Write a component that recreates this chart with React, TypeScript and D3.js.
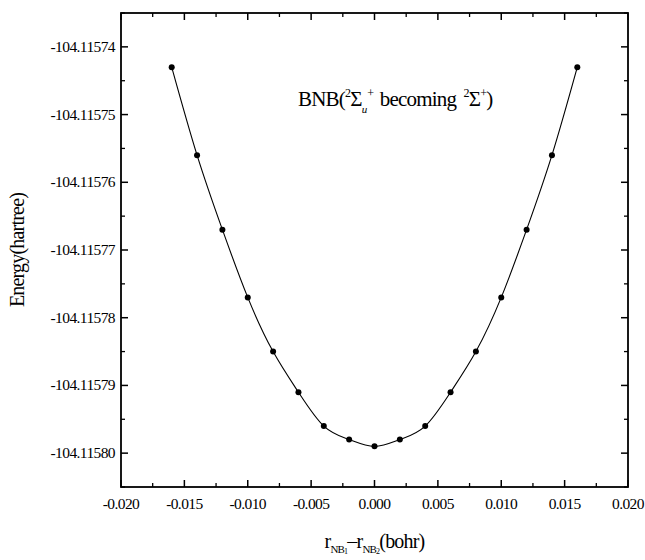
import React from 'react'
import * as d3 from 'd3'

// bond displacement (bohr) and total energy (hartree)
const dispBohr = [-0.016, -0.014, -0.012, -0.010, -0.008, -0.006, -0.004, -0.002, 0,
  0.002, 0.004, 0.006, 0.008, 0.010, 0.012, 0.014, 0.016]
const energyHartree = [-104.115743, -104.115756, -104.115767, -104.115777, -104.115785,
  -104.115791, -104.115796, -104.115798, -104.115799, -104.115798, -104.115796,
  -104.115791, -104.115785, -104.115777, -104.115767, -104.115756, -104.115743]

const xTickVals = [-0.020, -0.015, -0.010, -0.005, 0, 0.005, 0.010, 0.015, 0.020]
const xTickLabels = ['-0.020', '-0.015', '-0.010', '-0.005', '0.000', '0.005', '0.010', '0.015', '0.020']
const yTickVals = [-104.11574, -104.11575, -104.11576, -104.11577, -104.11578, -104.11579, -104.11580]
const yTickLabels = ['-104.11574', '-104.11575', '-104.11576', '-104.11577', '-104.11578', '-104.11579', '-104.11580']

const W = 645
const H = 560
const margin = { left: 121, top: 13, right: 17, bottom: 73 }
const font = '"Liberation Serif", "Times New Roman", serif'

const App = () => {
  const x0 = margin.left
  const x1 = W - margin.right
  const y0 = margin.top
  const y1 = H - margin.bottom

  const xScale = d3.scaleLinear().domain([-0.020, 0.020]).range([x0, x1])
  const yScale = d3.scaleLinear().domain([-104.115805, -104.115735]).range([y1, y0])

  const pts: [number, number][] = dispBohr.map((d, i) => [xScale(d), yScale(energyHartree[i])])
  const line = d3.line().curve(d3.curveNatural)(pts) || ''

  // minor ticks half way between the majors
  const xMinor = xTickVals.slice(1).map((v, i) => (v + xTickVals[i]) / 2)
  const yMinor = yTickVals.slice(1).map((v, i) => (v + yTickVals[i]) / 2)
  const yMinorAll = [yTickVals[0] + 0.000005, ...yMinor, yTickVals[yTickVals.length - 1] - 0.000005]

  const major = 7
  const minor = 4

  return (
    <svg width={W} height={H} style={{ position: 'absolute', left: 0, top: 0, background: '#fff' }}>
      <rect x={x0} y={y0} width={x1 - x0} height={y1 - y0} fill="none" stroke="#000" strokeWidth={1.8} />

      {xTickVals.map((v, i) => (
        <g key={'xt' + i}>
          <line x1={xScale(v)} x2={xScale(v)} y1={y1} y2={y1 - major} stroke="#000" strokeWidth={1.5} />
          <line x1={xScale(v)} x2={xScale(v)} y1={y0} y2={y0 + major} stroke="#000" strokeWidth={1.5} />
          <text x={xScale(v)} y={y1 + 22} textAnchor="middle" fontFamily={font} fontSize={15.5} letterSpacing={-0.6}>
            {xTickLabels[i]}
          </text>
        </g>
      ))}
      {xMinor.map((v, i) => (
        <g key={'xm' + i}>
          <line x1={xScale(v)} x2={xScale(v)} y1={y1} y2={y1 - minor} stroke="#000" strokeWidth={1.3} />
          <line x1={xScale(v)} x2={xScale(v)} y1={y0} y2={y0 + minor} stroke="#000" strokeWidth={1.3} />
        </g>
      ))}

      {yTickVals.map((v, i) => (
        <g key={'yt' + i}>
          <line x1={x0} x2={x0 + major} y1={yScale(v)} y2={yScale(v)} stroke="#000" strokeWidth={1.5} />
          <line x1={x1} x2={x1 - major} y1={yScale(v)} y2={yScale(v)} stroke="#000" strokeWidth={1.5} />
          <text x={x0 - 6} y={yScale(v) + 5} textAnchor="end" fontFamily={font} fontSize={15.5} letterSpacing={-0.6}>
            {yTickLabels[i]}
          </text>
        </g>
      ))}
      {yMinorAll.map((v, i) => (
        <g key={'ym' + i}>
          <line x1={x0} x2={x0 + minor} y1={yScale(v)} y2={yScale(v)} stroke="#000" strokeWidth={1.3} />
          <line x1={x1} x2={x1 - minor} y1={yScale(v)} y2={yScale(v)} stroke="#000" strokeWidth={1.3} />
        </g>
      ))}

      <path d={line} fill="none" stroke="#000" strokeWidth={1.1} />
      {pts.map((p, i) => (
        <circle key={'p' + i} cx={p[0]} cy={p[1]} r={3} fill="#000" />
      ))}

      <text x={298} y={106} fontFamily={font} fontSize={21} letterSpacing={-0.8}>
        BNB(<tspan fontSize={12} dy={-9}>2</tspan><tspan dy={9}>Σ</tspan>
        <tspan fontSize={11} dy={7} fontStyle="italic">u</tspan>
        <tspan fontSize={12} dy={-16} dx={1}>+</tspan>
        <tspan dy={9} dx={2}> becoming </tspan>
        <tspan fontSize={12} dy={-9} dx={3}>2</tspan><tspan dy={9}>Σ</tspan>
        <tspan fontSize={12} dy={-9}>+</tspan><tspan dy={9}>)</tspan>
      </text>

      <text transform={`translate(24, ${(y0 + y1) / 2}) rotate(-90)`} textAnchor="middle"
        fontFamily={font} fontSize={20} letterSpacing={-0.8}>
        Energy(hartree)
      </text>

      <text x={(x0 + x1) / 2} y={H - 12} textAnchor="middle" fontFamily={font} fontSize={20} letterSpacing={-0.8}>
        r<tspan fontSize={11} dy={5}>NB</tspan><tspan fontSize={8} dy={1}>1</tspan>
        <tspan dy={-6}>–r</tspan><tspan fontSize={11} dy={5}>NB</tspan><tspan fontSize={8} dy={1}>2</tspan>
        <tspan dy={-6}>(bohr)</tspan>
      </text>
    </svg>
  )
}

export default App
